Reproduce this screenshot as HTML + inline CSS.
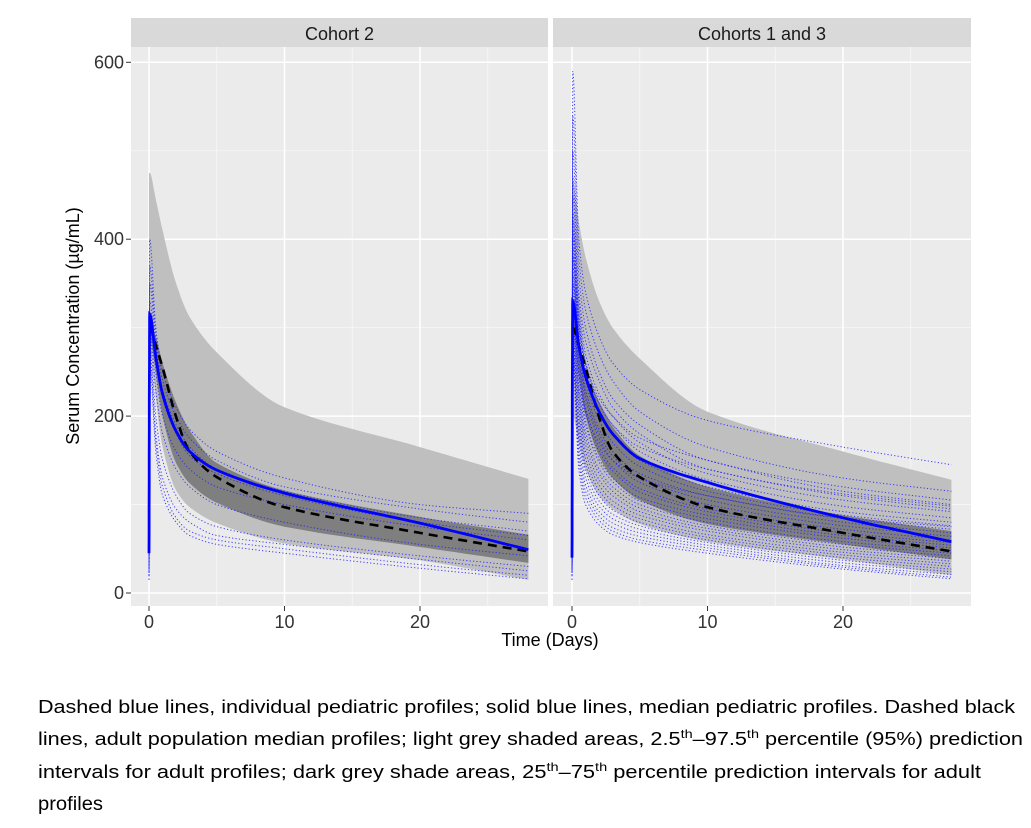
<!DOCTYPE html>
<html><head><meta charset="utf-8"><style>
html,body{margin:0;padding:0;background:#fff;}
svg{display:block;font-family:"Liberation Sans",sans-serif;}
</style></head><body>
<svg id="chart" width="1031" height="828" viewBox="0 0 1031 828" xmlns="http://www.w3.org/2000/svg">
<defs>
<clipPath id="clipA"><rect x="131" y="47" width="417" height="559"/></clipPath>
<clipPath id="clipB"><rect x="553" y="47" width="418" height="559"/></clipPath>
</defs>
<g id="root"></g>
<text x="0" y="0" transform="translate(79,326) rotate(-90)" text-anchor="middle" font-size="18" fill="#000">Serum Concentration (µg/mL)</text>
<text x="550" y="646" text-anchor="middle" font-size="18" fill="#000">Time (Days)</text>
<g font-size="18" fill="#000" font-family="'Liberation Sans',sans-serif">
<text x="38" y="713" textLength="977" lengthAdjust="spacingAndGlyphs">Dashed blue lines, individual pediatric profiles; solid blue lines, median pediatric profiles. Dashed black</text>
<text x="38" y="745" textLength="985" lengthAdjust="spacingAndGlyphs">lines, adult population median profiles; light grey shaded areas, 2.5<tspan dy="-7" font-size="12">th</tspan><tspan dy="7">–97.5</tspan><tspan dy="-7" font-size="12">th</tspan><tspan dy="7"> percentile (95%) prediction</tspan></text>
<text x="38" y="778" textLength="943" lengthAdjust="spacingAndGlyphs">intervals for adult profiles; dark grey shade areas, 25<tspan dy="-7" font-size="12">th</tspan><tspan dy="7">–75</tspan><tspan dy="-7" font-size="12">th</tspan><tspan dy="7"> percentile prediction intervals for adult</tspan></text>
<text x="38" y="810" font-size="19" textLength="65" lengthAdjust="spacingAndGlyphs">profiles</text>
</g>
</svg>
<script>
const T = [0, 0.05, 0.5, 1, 2, 3, 5, 10, 20, 28];
const yTicks = [0, 200, 400, 600];
const xTicks = [0, 10, 20];
const panelTitles = ["Cohort 2", "Cohorts 1 and 3"];
// Cohort 2
const c2LightUp = [475,475,445,410,350,312,272,210,165,129];
const c2LightLo = [320,300,221,165,116,97,79,56,37,15];
const c2DarkUp = [310,305,290,260,215,184,147,116,86,66];
const c2DarkLo = [300,295,250,200,147,124,102,75,52,34];
const c2Adult = [300,300,280,255,199,160,131,97,68,47];
const c2Ped = [45,315,267,225,183,160,139,113,79,49];
const c2Indiv = [
[20,400,300,250,210,185,160,130,100,90],
[30,370,290,240,200,175,150,120,95,80],
[25,350,280,230,190,165,140,115,85,70],
[40,330,270,220,180,155,135,110,80,65],
[35,320,250,200,160,140,120,100,75,60],
[20,300,230,180,140,120,100,80,55,42],
[15,290,200,150,110,90,75,60,42,30],
[20,280,180,130,95,80,65,55,38,25],
[15,270,170,120,85,70,60,50,32,20],
[20,260,160,110,80,65,55,45,28,16]];
// Cohorts 1 and 3
const c13LightUp = [465,465,420,380,330,300,265,205,160,128];
const c13LightLo = [200,200,170,140,110,95,78,58,38,20];
const c13DarkUp = [320,320,280,250,215,188,155,120,88,70];
const c13DarkLo = [300,300,245,200,155,130,105,78,55,38];
const c13Adult = [300,300,280,255,199,160,131,97,68,47];
const c13Ped = [40,330,280,245,205,180,152,125,85,58];
const c13Indiv = [
[20,590,400,340,290,260,230,195,165,145],
[30,540,380,320,270,240,205,165,130,115],
[25,500,360,300,250,220,190,150,120,105],
[40,470,340,285,240,210,180,140,112,98],
[35,450,330,270,225,200,170,135,105,92],
[20,430,320,260,215,190,160,128,98,85],
[45,420,310,250,205,180,150,120,92,80],
[30,410,300,240,195,170,143,115,88,76],
[25,400,290,230,185,160,135,110,84,72],
[50,390,285,225,180,155,130,105,80,68],
[35,380,280,220,175,150,125,100,76,64],
[20,370,270,210,165,142,118,95,72,60],
[40,360,265,205,160,138,114,92,68,57],
[30,350,255,195,152,130,108,88,65,54],
[25,340,250,190,148,126,104,84,62,51],
[45,330,240,182,140,120,100,80,58,48],
[30,320,232,175,135,115,96,76,55,45],
[20,310,225,168,128,110,92,73,52,42],
[35,305,218,160,122,104,88,70,49,39],
[25,300,210,152,116,99,84,66,46,36],
[40,295,200,145,110,94,80,63,43,33],
[30,290,190,138,104,89,76,60,40,30],
[20,285,180,130,98,84,72,57,37,27],
[15,280,170,122,92,79,68,54,34,24],
[25,275,160,115,87,74,64,51,31,21],
[15,270,150,108,82,70,60,48,29,18],
[20,265,140,100,77,66,57,45,27,16],
[35,350,300,260,220,200,175,150,115,100],
[30,380,310,255,215,190,165,140,110,95],
[25,330,250,205,170,150,130,110,85,75]];

const NS = "http://www.w3.org/2000/svg";
const root = document.getElementById("root");
const yScale = v => 593 - v * 0.8845;
function mk(tag, attrs, parent) {
  const e = document.createElementNS(NS, tag);
  for (const k in attrs) e.setAttribute(k, attrs[k]);
  parent.appendChild(e);
  return e;
}
function sample(xs, ys) {
  const n = xs.length, d = [], m = [];
  for (let i = 0; i < n - 1; i++) d.push((ys[i+1]-ys[i])/(xs[i+1]-xs[i]));
  m[0] = d[0]; m[n-1] = d[n-2];
  for (let i = 1; i < n - 1; i++) m[i] = (d[i-1]*d[i] <= 0) ? 0 : 3*(d[i-1]+d[i]) / (2*d[i]/d[i-1] + 2 + 2*d[i-1]/d[i]) ;
  const pts = [];
  for (let i = 0; i < n - 1; i++) {
    const h = xs[i+1]-xs[i], steps = 12;
    for (let s = 0; s < steps; s++) {
      const t = s/steps, t2=t*t, t3=t2*t;
      const v = (2*t3-3*t2+1)*ys[i] + (t3-2*t2+t)*h*m[i] + (-2*t3+3*t2)*ys[i+1] + (t3-t2)*h*m[i+1];
      pts.push([xs[i]+t*h, v]);
    }
  }
  pts.push([xs[n-1], ys[n-1]]);
  return pts;
}
function lineD(xf, vals) {
  return sample(T, vals).map((p,i)=>(i?"L":"M")+xf(p[0]).toFixed(1)+","+yScale(p[1]).toFixed(1)).join("");
}
function bandD(xf, up, lo) {
  const a = sample(T, up), b = sample(T, lo).reverse();
  return a.concat(b).map((p,i)=>(i?"L":"M")+xf(p[0]).toFixed(1)+","+yScale(p[1]).toFixed(1)).join("")+"Z";
}
const panels = [
  {x0:131, w:417, zero:149, clip:"clipA", lu:c2LightUp, ll:c2LightLo, du:c2DarkUp, dl:c2DarkLo, ad:c2Adult, pm:c2Ped, ind:c2Indiv, key:"cohort-2"},
  {x0:553, w:418, zero:572, clip:"clipB", lu:c13LightUp, ll:c13LightLo, du:c13DarkUp, dl:c13DarkLo, ad:c13Adult, pm:c13Ped, ind:c13Indiv, key:"cohorts-1-3"}
];
panels.forEach((P, pi) => {
  const xf = d => P.zero + d * 13.55;
  const g = mk("g", {}, root);
  
  
  const bg = mk("rect", {x:P.x0, y:47, width:P.w, height:559, fill:"#ebebeb"}, g);
  
  
  const strip = mk("rect", {x:P.x0, y:18, width:P.w, height:29, fill:"#d9d9d9"}, g);
  
  
  const st = mk("text", {x:P.x0+P.w/2, y:40, "text-anchor":"middle", "font-size":18, fill:"#1a1a1a"}, g);
  st.textContent = panelTitles[pi];
  
  
  [100,300,500].forEach(v => mk("line",{x1:P.x0,x2:P.x0+P.w,y1:yScale(v),y2:yScale(v),stroke:"#f7f7f7","stroke-width":0.8},g));
  [5,15,25].forEach(d => mk("line",{x1:xf(d),x2:xf(d),y1:47,y2:606,stroke:"#f7f7f7","stroke-width":0.8},g));
  yTicks.forEach(v => mk("line",{x1:P.x0,x2:P.x0+P.w,y1:yScale(v),y2:yScale(v),stroke:"#fff","stroke-width":1.5},g));
  xTicks.forEach(d => {
    mk("line",{x1:xf(d),x2:xf(d),y1:47,y2:606,stroke:"#fff","stroke-width":1.5},g);
    mk("line",{x1:xf(d),x2:xf(d),y1:606,y2:611,stroke:"#333","stroke-width":1},g);
    const t = mk("text",{x:xf(d),y:628,"text-anchor":"middle","font-size":18,fill:"#333"},g);
    t.textContent = d;
    
    
  });
  const c = mk("g", {"clip-path":"url(#"+P.clip+")"}, g);
  const lb = mk("path",{d:bandD(xf,P.lu,P.ll),fill:"#bfbfbf"},c);
  
  
  const db = mk("path",{d:bandD(xf,P.du,P.dl),fill:"#7f7f7f"},c);
  
  
  P.ind.forEach(vals => {
    const l = mk("path",{d:lineD(xf,vals),fill:"none",stroke:"#2020ff","stroke-width":1,"stroke-dasharray":"1.2,2.2","stroke-opacity":0.85},c);
    
    
  });
  const am = mk("path",{d:lineD(xf,P.ad),fill:"none",stroke:"#000","stroke-width":2.6,"stroke-dasharray":"9,6"},c);
  
  
  const pm = mk("path",{d:lineD(xf,P.pm),fill:"none",stroke:"#0000ff","stroke-width":2.8},c);
  
  
});
yTicks.forEach(v => {
  mk("line",{x1:126,x2:131,y1:yScale(v),y2:yScale(v),stroke:"#333","stroke-width":1},root);
  const t = mk("text",{x:124,y:yScale(v)+6,"text-anchor":"end","font-size":18,fill:"#333"},root);
  t.textContent = v;
  
  
});
</script>
</body></html>
